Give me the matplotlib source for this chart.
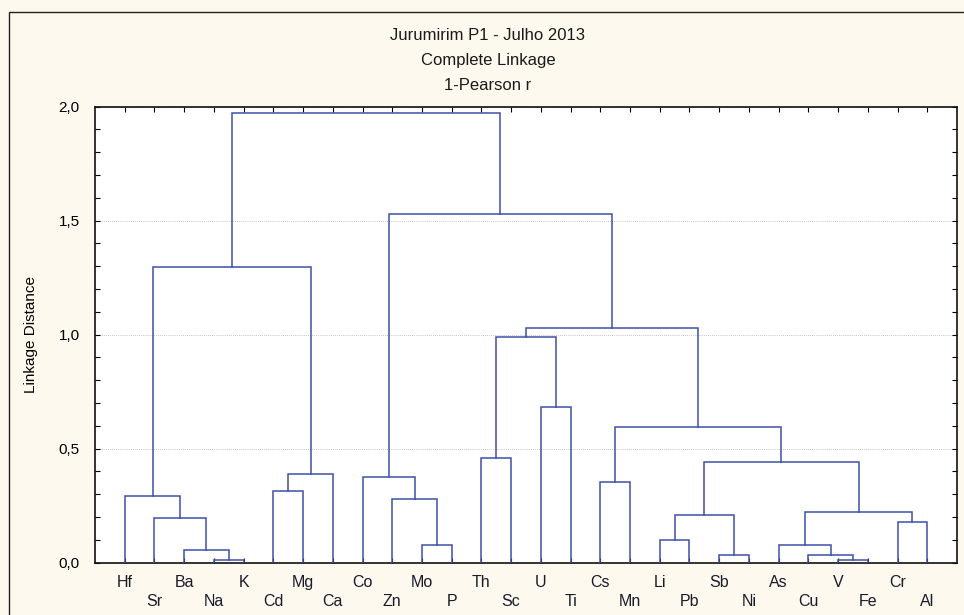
import matplotlib
matplotlib.use("Agg")
import matplotlib.pyplot as plt
from matplotlib.patches import Rectangle
from matplotlib.ticker import MultipleLocator, FixedLocator

# Leaf order as drawn, left to right.
leaves = ["Hf", "Sr", "Ba", "Na", "K", "Cd", "Mg", "Ca", "Co", "Zn", "Mo", "P",
          "Th", "Sc", "U", "Ti", "Cs", "Mn", "Li", "Pb", "Sb", "Ni", "As", "Cu",
          "V", "Fe", "Cr", "Al"]

# Merges, scipy style: ids 0..27 are leaves, merge k creates cluster 28 + k.
merge_left = [3, 2, 1, 0, 5, 32, 31, 10, 9, 8, 12, 14, 38, 16, 18, 20, 42,
              24, 23, 22, 26, 47, 44, 41, 40, 37, 34]
merge_right = [4, 28, 29, 30, 6, 7, 33, 11, 35, 36, 13, 15, 39, 17, 19, 21, 43,
               25, 45, 46, 27, 48, 49, 50, 51, 52, 53]
merge_height = [0.009, 0.053, 0.193, 0.29, 0.313, 0.39, 1.298, 0.076, 0.279,
                0.374, 0.459, 0.68, 0.987, 0.352, 0.10, 0.035, 0.21, 0.009,
                0.035, 0.075, 0.177, 0.22, 0.44, 0.593, 1.03, 1.53, 1.97]

line_color = "#3d4fa8"
bg = "#fdf9ef"
sans = ["Liberation Sans", "DejaVu Sans"]

fig = plt.figure(figsize=(9.64, 6.15), dpi=100, facecolor=bg)
W, H = 964, 615
ax = fig.add_axes([95 / W, 1 - 562.5 / H, (957 - 95) / W, (562.5 - 106.5) / H])
ax.set_facecolor("white")

# outer frame (runs off right and bottom edges)
fig.patches.append(Rectangle((9 / W, -0.05), 1.0, 1 - 12 / H + 0.05,
                             transform=fig.transFigure, fill=False,
                             edgecolor="#222222", linewidth=1.0))

# dendrogram: each cluster has a centre x and a height
pos = {i: (float(i), 0.0) for i in range(len(leaves))}
for k, (a, b, h) in enumerate(zip(merge_left, merge_right, merge_height)):
    xa, ha = pos[a]
    xb, hb = pos[b]
    ax.plot([xa, xa, xb, xb], [ha, h, h, hb], color=line_color, lw=1.1,
            solid_joinstyle="miter", zorder=3)
    pos[len(leaves) + k] = ((xa + xb) / 2, h)

ax.set_xlim(-1, 28)
ax.set_ylim(0, 2.0)

ax.yaxis.set_major_locator(MultipleLocator(0.5))
ax.yaxis.set_minor_locator(MultipleLocator(0.1))
ax.set_yticklabels([f"{v:.1f}".replace(".", ",") for v in ax.get_yticks()],
                   family=sans, fontsize=11)
ax.xaxis.set_major_locator(FixedLocator(range(len(leaves))))
ax.set_xticklabels([])
ax.tick_params(direction="in", top=True, right=True, length=3.5, width=0.8,
               pad=11)
ax.tick_params(which="minor", direction="in", right=True, length=3.5, width=0.8)
ax.grid(axis="y", which="major", color="#b0b0b0", linestyle=(0, (1, 1.5)),
        linewidth=0.6)
for s in ax.spines.values():
    s.set_linewidth(1.2)
    s.set_color("#111111")

# leaf labels in two staggered rows
for i, name in enumerate(leaves):
    dy = -24.5 if i % 2 == 0 else -43.5
    ax.annotate(name, xy=(i, 0), xycoords=("data", "axes fraction"),
                xytext=(0, dy), textcoords="offset pixels",
                ha="center", va="baseline", family=sans, fontsize=11.5,
                color="#1a1a2a")

ax.set_ylabel("Linkage Distance", family=sans, fontsize=11)
ax.yaxis.set_label_coords(-0.066, 0.5)

for y, t in [(35, "Jurumirim P1 - Julho 2013"), (60, "Complete Linkage"),
             (85, "1-Pearson r")]:
    fig.text(488 / W, 1 - y / H, t, ha="center", va="center",
             family=sans, fontsize=12, color="#1a1a1a")

fig.savefig("out.png", dpi=100, facecolor=bg)
